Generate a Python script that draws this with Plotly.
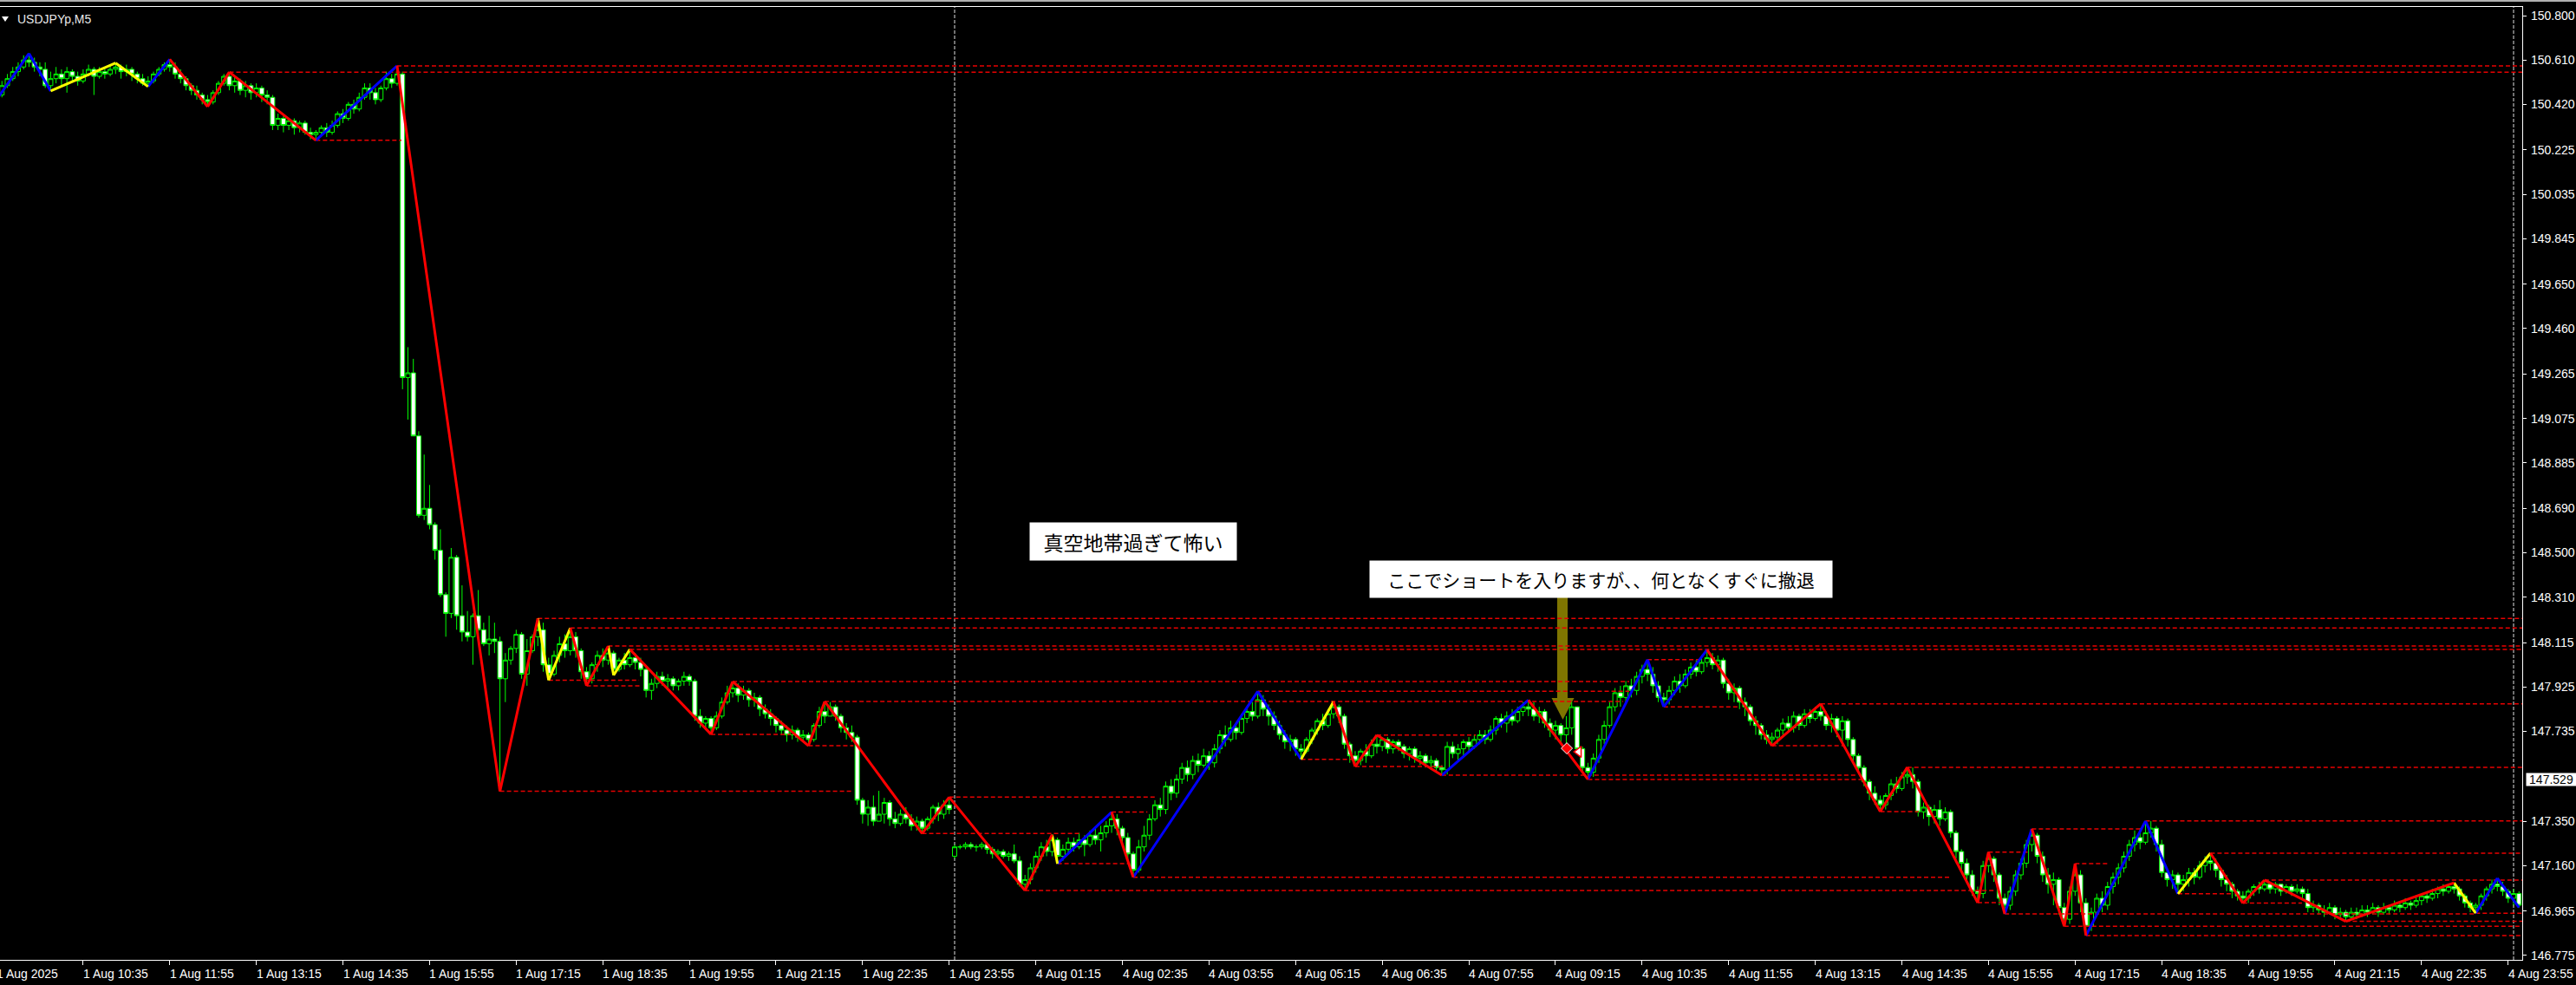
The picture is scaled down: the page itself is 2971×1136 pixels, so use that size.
import plotly.graph_objects as go

# ---------------- data ----------------
# M5 bars, bar 0 = 1 Aug 09:15 ; bar 177 = 4 Aug 00:00
closes = [
150.46,150.50,150.53,150.56,150.58,150.61,150.60,150.58,150.57,150.50,
150.53,150.55,150.53,150.56,150.54,150.52,150.55,150.57,150.54,150.56,
150.55,150.57,150.58,150.56,150.57,150.55,150.53,150.51,150.52,150.55,
150.57,150.59,150.58,150.55,150.53,150.50,150.48,150.46,150.44,150.43,
150.47,150.51,150.54,150.50,150.52,150.48,150.50,150.47,150.49,150.46,
150.45,150.33,150.36,150.33,150.35,150.32,150.34,150.30,150.29,150.30,
150.32,150.30,150.33,150.38,150.36,150.42,150.40,150.45,150.49,150.47,
150.44,150.49,150.53,150.51,150.55,149.25,149.27,149.00,148.66,148.69,
148.62,148.51,148.32,148.24,148.48,148.23,148.16,148.14,148.23,148.17,
148.11,148.13,148.12,147.96,148.04,148.09,148.15,147.98,148.08,148.14,
148.17,148.02,147.98,148.06,148.11,148.08,148.14,148.08,147.99,147.96,
148.02,148.06,148.04,148.07,148.00,148.04,148.02,148.05,148.03,148.00,
147.91,147.94,147.97,147.95,147.96,147.93,147.95,147.97,147.95,147.80,
147.77,147.79,147.75,147.80,147.86,147.90,147.92,147.89,147.91,147.87,
147.88,147.83,147.81,147.79,147.76,147.74,147.72,147.74,147.71,147.72,
147.70,147.76,147.82,147.80,147.84,147.80,147.75,147.73,147.71,147.44,
147.38,147.41,147.35,147.38,147.43,147.36,147.34,147.38,147.36,147.33,
147.35,147.32,147.36,147.41,147.38,147.42,147.40,147.24,147.24,147.25,
147.24,147.24,147.25,147.23,147.21,147.22,147.20,147.21,147.18,147.08,
147.10,147.15,147.20,147.24,147.22,147.27,147.20,147.23,147.26,147.24,
147.27,147.25,147.29,147.27,147.30,147.33,147.36,147.32,147.28,147.21,
147.14,147.24,147.29,147.36,147.42,147.40,147.50,147.47,147.53,147.58,
147.55,147.61,147.59,147.63,147.60,147.66,147.72,147.70,147.75,147.73,
147.79,147.82,147.80,147.87,147.83,147.80,147.76,147.72,147.69,147.70,
147.66,147.65,147.70,147.74,147.78,147.76,147.81,147.84,147.80,147.68,
147.63,147.61,147.65,147.63,147.68,147.67,147.70,147.66,147.69,147.67,
147.64,147.66,147.62,147.63,147.60,147.61,147.58,147.57,147.67,147.64,
147.66,147.69,147.67,147.70,147.72,147.70,147.74,147.79,147.77,147.80,
147.78,147.82,147.84,147.83,147.80,147.82,147.77,147.74,147.76,147.72,
147.75,147.84,147.66,147.58,147.56,147.62,147.70,147.76,147.84,147.90,
147.88,147.93,147.91,147.97,148.00,147.98,147.93,147.88,147.87,147.91,
147.95,147.93,147.98,148.01,147.99,148.03,148.05,148.02,148.04,147.94,
147.90,147.92,147.86,147.84,147.78,147.76,147.72,147.70,147.71,147.74,
147.77,147.75,147.80,147.76,147.81,147.79,147.82,147.80,147.76,147.79,
147.74,147.78,147.70,147.63,147.58,147.52,147.47,147.44,147.42,147.46,
147.51,147.49,147.54,147.55,147.52,147.39,147.41,147.37,147.40,147.36,
147.39,147.30,147.22,147.17,147.12,147.05,147.04,147.16,147.19,147.12,
147.02,146.99,147.05,147.12,147.17,147.25,147.29,147.20,147.12,147.08,
147.10,146.98,146.93,147.05,147.12,147.00,146.90,146.96,147.02,146.99,
147.07,147.11,147.15,147.20,147.25,147.28,147.26,147.30,147.32,147.25,
147.13,147.10,147.12,147.08,147.10,147.13,147.11,147.16,147.18,147.17,
147.14,147.10,147.08,147.05,147.03,147.02,147.05,147.07,147.06,147.08,
147.06,147.08,147.05,147.07,147.05,147.06,147.04,146.98,146.99,146.97,
146.96,146.98,146.95,146.96,146.94,146.96,146.95,146.97,146.96,146.98,
146.96,146.98,146.97,146.99,146.98,147.00,146.99,147.01,147.03,147.02,
147.04,147.06,147.05,147.07,147.06,147.03,147.00,146.98,146.99,147.03,
147.06,147.08,147.07,147.05,147.02,147.04,146.99,
]

highs = [
150.47,150.52,150.55,150.58,150.60,150.63,150.638,150.62,150.60,150.60,
150.56,150.58,150.57,150.58,150.57,150.56,150.57,150.59,150.58,150.58,
150.58,150.59,150.597,150.59,150.59,150.58,150.56,150.55,150.54,150.56,
150.58,150.60,150.613,150.60,150.57,150.54,150.51,150.50,150.47,150.46,
150.48,150.52,150.55,150.558,150.54,150.53,150.52,150.51,150.51,150.50,
150.48,150.46,150.38,150.37,150.36,150.36,150.35,150.35,150.32,150.31,
150.33,150.34,150.35,150.39,150.40,150.43,150.44,150.47,150.51,150.51,
150.49,150.50,150.56,150.55,150.585,150.56,149.38,149.33,149.02,148.92,
148.79,148.63,148.60,148.33,148.52,148.49,148.36,148.25,148.24,148.34,
148.20,148.23,148.20,148.14,148.07,148.10,148.17,148.16,148.13,148.15,
148.218,148.20,148.05,148.08,148.14,148.15,148.177,148.16,148.09,148.01,
148.03,148.08,148.09,148.10,148.08,148.05,148.07,148.086,148.07,148.05,
148.01,147.96,147.99,147.99,147.98,147.97,147.96,147.99,147.98,147.96,
147.83,147.80,147.80,147.82,147.88,147.93,147.948,147.94,147.93,147.92,
147.90,147.89,147.85,147.83,147.80,147.78,147.76,147.76,147.75,147.74,
147.73,147.77,147.84,147.863,147.86,147.85,147.81,147.77,147.76,147.72,
147.45,147.44,147.46,147.48,147.45,147.44,147.39,147.40,147.41,147.38,
147.37,147.36,147.37,147.42,147.43,147.44,147.453,147.25,147.25,147.26,
147.26,147.25,147.26,147.26,147.24,147.23,147.23,147.22,147.25,147.20,
147.12,147.17,147.22,147.26,147.27,147.292,147.28,147.25,147.28,147.28,
147.30,147.29,147.31,147.32,147.33,147.35,147.389,147.38,147.33,147.30,
147.22,147.27,147.33,147.38,147.44,147.45,147.52,147.53,147.55,147.60,
147.61,147.63,147.64,147.66,147.65,147.68,147.74,147.76,147.78,147.77,
147.81,147.84,147.86,147.906,147.89,147.85,147.82,147.78,147.74,147.72,
147.71,147.68,147.71,147.75,147.79,147.81,147.83,147.862,147.85,147.81,
147.69,147.65,147.66,147.68,147.70,147.719,147.71,147.71,147.70,147.70,
147.68,147.67,147.67,147.65,147.64,147.63,147.62,147.59,147.69,147.69,
147.68,147.70,147.71,147.72,147.74,147.74,147.76,147.80,147.81,147.82,
147.83,147.84,147.86,147.869,147.86,147.84,147.83,147.79,147.78,147.77,
147.80,147.86,147.84,147.67,147.60,147.64,147.72,147.78,147.86,147.92,
147.93,147.95,147.96,147.99,148.02,148.042,148.01,147.95,147.90,147.93,
147.97,147.98,148.00,148.03,148.04,148.06,148.084,148.07,148.06,148.05,
147.96,147.94,147.93,147.88,147.85,147.80,147.77,147.74,147.73,147.75,
147.79,147.80,147.82,147.81,147.83,147.83,147.84,147.853,147.82,147.81,
147.80,147.80,147.79,147.71,147.64,147.59,147.53,147.50,147.46,147.47,
147.53,147.54,147.56,147.581,147.58,147.53,147.43,147.42,147.42,147.44,
147.41,147.40,147.31,147.23,147.19,147.14,147.07,147.18,147.218,147.20,
147.13,147.04,147.07,147.14,147.19,147.27,147.317,147.30,147.22,147.15,
147.13,147.11,147.00,147.07,147.168,147.14,147.02,146.98,147.04,147.05,
147.09,147.13,147.17,147.22,147.27,147.31,147.32,147.351,147.35,147.33,
147.27,147.15,147.14,147.13,147.12,147.15,147.15,147.18,147.20,147.213,
147.19,147.15,147.12,147.09,147.06,147.05,147.06,147.08,147.09,147.098,
147.09,147.09,147.08,147.08,147.08,147.08,147.07,147.06,147.01,147.00,
146.99,147.00,146.99,146.98,146.97,146.98,146.98,146.99,146.99,147.00,
146.99,147.00,146.99,147.01,147.00,147.02,147.01,147.03,147.04,147.05,
147.06,147.07,147.08,147.08,147.086,147.07,147.04,147.01,147.00,147.04,
147.07,147.10,147.106,147.09,147.06,147.06,147.05,
]

lows = [
150.42,150.45,150.49,150.52,150.54,150.57,150.58,150.56,150.54,150.49,
150.477,150.51,150.50,150.47,150.52,150.50,150.51,150.54,150.46,150.53,
150.53,150.54,150.55,150.53,150.54,150.52,150.51,150.50,150.496,150.51,
150.54,150.56,150.56,150.53,150.51,150.48,150.46,150.44,150.42,150.41,
150.42,150.46,150.50,150.48,150.47,150.46,150.45,150.44,150.45,150.43,
150.42,150.31,150.31,150.30,150.31,150.29,150.30,150.29,150.27,150.266,
150.28,150.28,150.29,150.32,150.34,150.35,150.38,150.39,150.44,150.44,
150.42,150.43,150.48,150.49,150.50,149.20,149.07,149.00,148.65,148.64,
148.60,148.47,148.31,148.14,148.22,148.17,148.12,148.12,148.02,148.15,
148.10,148.06,148.07,147.478,147.86,148.02,148.07,147.96,147.93,148.07,
148.10,147.99,147.954,147.97,148.03,148.05,148.06,148.05,147.96,147.93,
147.94,147.99,148.01,148.02,147.975,147.99,148.00,148.01,148.00,147.97,
147.88,147.87,147.92,147.93,147.92,147.91,147.91,147.93,147.93,147.78,
147.75,147.74,147.722,147.74,147.79,147.85,147.88,147.86,147.87,147.84,
147.84,147.80,147.79,147.76,147.73,147.72,147.69,147.70,147.69,147.69,
147.673,147.69,147.75,147.77,147.80,147.78,147.73,147.70,147.69,147.42,
147.34,147.33,147.33,147.35,147.34,147.33,147.32,147.33,147.34,147.31,
147.31,147.297,147.31,147.34,147.35,147.36,147.38,147.19,147.23,147.23,
147.23,147.22,147.23,147.21,147.19,147.20,147.19,147.18,147.17,147.07,
147.053,147.08,147.13,147.18,147.20,147.20,147.168,147.18,147.21,147.22,
147.23,147.20,147.24,147.25,147.22,147.28,147.30,147.29,147.25,147.19,
147.110,147.13,147.22,147.27,147.35,147.37,147.38,147.44,147.45,147.51,
147.52,147.53,147.56,147.58,147.57,147.58,147.64,147.67,147.69,147.70,
147.72,147.77,147.78,147.79,147.80,147.76,147.74,147.70,147.66,147.65,
147.63,147.615,147.64,147.68,147.72,147.74,147.75,147.79,147.77,147.66,
147.60,147.584,147.59,147.60,147.62,147.64,147.65,147.64,147.64,147.65,
147.62,147.61,147.60,147.59,147.58,147.57,147.56,147.547,147.55,147.62,
147.61,147.63,147.65,147.66,147.68,147.68,147.69,147.72,147.75,147.73,
147.76,147.77,147.80,147.80,147.78,147.77,147.75,147.71,147.70,147.68,
147.66,147.72,147.64,147.56,147.529,147.54,147.60,147.68,147.75,147.82,
147.84,147.86,147.88,147.89,147.94,147.95,147.90,147.86,147.840,147.85,
147.89,147.90,147.92,147.96,147.97,147.98,148.01,148.00,147.99,147.92,
147.87,147.86,147.83,147.80,147.76,147.72,147.70,147.68,147.673,147.68,
147.72,147.73,147.73,147.74,147.75,147.77,147.78,147.78,147.74,147.73,
147.71,147.69,147.67,147.60,147.55,147.50,147.44,147.42,147.391,147.40,
147.44,147.47,147.48,147.51,147.49,147.37,147.36,147.33,147.34,147.33,
147.35,147.28,147.19,147.14,147.09,147.03,147.001,147.02,147.13,147.09,
146.99,146.953,146.97,147.03,147.10,147.15,147.22,147.17,147.09,147.04,
146.99,146.95,146.900,146.91,147.03,146.96,146.860,146.88,146.94,146.96,
146.97,147.04,147.08,147.13,147.18,147.22,147.23,147.25,147.28,147.22,
147.11,147.07,147.06,147.039,147.05,147.07,147.08,147.10,147.13,147.14,
147.11,147.07,147.05,147.02,147.01,146.999,147.00,147.03,147.04,147.05,
147.04,147.04,147.03,147.04,147.03,147.04,147.02,146.96,146.96,146.95,
146.94,146.95,146.93,146.93,146.921,146.93,146.93,146.94,146.94,146.95,
146.94,146.95,146.95,146.96,146.96,146.97,146.97,146.98,146.99,147.00,
147.01,147.02,147.03,147.04,147.04,147.01,146.98,146.96,146.956,146.97,
147.01,147.04,147.05,147.03,147.00,146.99,146.980,
]

first_open = 150.44
gap_opens = {177: 147.20}          # weekend gap at Monday open

time_labels = [
"1 Aug 2025", "1 Aug 10:35", "1 Aug 11:55", "1 Aug 13:15", "1 Aug 14:35",
"1 Aug 15:55", "1 Aug 17:15", "1 Aug 18:35", "1 Aug 19:55", "1 Aug 21:15",
"1 Aug 22:35", "1 Aug 23:55", "4 Aug 01:15", "4 Aug 02:35", "4 Aug 03:55",
"4 Aug 05:15", "4 Aug 06:35", "4 Aug 07:55", "4 Aug 09:15", "4 Aug 10:35",
"4 Aug 11:55", "4 Aug 13:15", "4 Aug 14:35", "4 Aug 15:55", "4 Aug 17:15",
"4 Aug 18:35", "4 Aug 19:55", "4 Aug 21:15", "4 Aug 22:35", "4 Aug 23:55",
]
label_bars = [16 * k for k in range(len(time_labels))]

price_ticks = [150.800, 150.610, 150.420, 150.225, 150.035, 149.845, 149.650,
               149.460, 149.265, 149.075, 148.885, 148.690, 148.500, 148.310,
               148.115, 147.925, 147.735, 147.350, 147.160, 146.965, 146.775]
current_price = 147.529
separator_bars = [177, 465]

# ZigZag pivots (bar, price) and segment colours
zz_bar = [0, 6, 10, 22, 28, 32, 39, 43, 59, 74, 93, 100, 102, 106, 109, 113, 114,
          117, 132, 136, 150, 153, 171, 176, 190, 195, 196, 206, 210, 233, 241,
          247, 251, 255, 267, 283, 294, 305, 308, 316, 328, 337, 348, 353, 366,
          368, 371, 376, 382, 384, 386, 397, 403, 409, 415, 419, 434, 454, 458,
          462, 466]
zz_price = [150.44, 150.638, 150.477, 150.597, 150.496, 150.613, 150.410, 150.558,
            150.266, 150.585, 147.478, 148.218, 147.954, 148.177, 147.930, 148.100,
            147.975, 148.086, 147.722, 147.948, 147.673, 147.863, 147.297, 147.453,
            147.053, 147.292, 147.168, 147.389, 147.110, 147.906, 147.615, 147.862,
            147.584, 147.719, 147.547, 147.869, 147.529, 148.042, 147.840, 148.084,
            147.673, 147.853, 147.391, 147.581, 147.001, 147.218, 146.953, 147.317,
            146.900, 147.168, 146.860, 147.351, 147.039, 147.213, 146.999, 147.098,
            146.921, 147.086, 146.956, 147.106, 146.980]
zz_color = list("bbyyb" "rrrbr" "ryyrr" "yyrrr" "rrrrr" "ybrbb"
                "yrrrb" "rbbbr" "rrrrr" "rbrrr" "bbyrr" "rrybb")

# horizontal support / resistance levels: start bar, end bar, price
lvl_start = [74, 43, 59, 100, 106, 113, 117, 102, 109, 136, 132, 150, 93, 153,
             176, 206, 171, 196, 210, 190, 233, 241, 251, 267, 294, 255, 305,
             308, 328, 337, 348, 353, 366, 368, 371, 376, 382, 384, 386, 397,
             403, 409, 415, 419, 434, 458]
lvl_end = [470, 470, 74.8, 470, 470, 470, 470, 118.7, 119.2, 301.6, 146.7, 158.3,
           158.3, 300.5, 214.2, 212.6, 200.4, 209.4, 361.0, 369.4, 301.6, 250.8,
           267.3, 343.4, 344.9, 273.3, 314.6, 321.8, 341.2, 470, 355.1, 470,
           370.8, 375.3, 458.1, 396.1, 470, 390.2, 470, 470, 413.3, 470, 425.9,
           470, 470, 470]
lvl_price = [150.585, 150.558, 150.266, 148.218, 148.177, 148.100, 148.086,
             147.954, 147.930, 147.948, 147.722, 147.673, 147.478, 147.863,
             147.453, 147.389, 147.297, 147.168, 147.110, 147.053, 147.906,
             147.615, 147.584, 147.547, 147.529, 147.719, 148.042, 147.840,
             147.673, 147.853, 147.391, 147.581, 147.001, 147.218, 146.953,
             147.317, 146.900, 147.168, 146.860, 147.351, 147.039, 147.213,
             146.999, 147.098, 146.921, 146.956]

# trade marks near the note arrow
sell_mark = (290.1, 147.662)
close_mark = (292.3, 147.647)

title_text = "USDJPYp,M5"
note1 = "真空地帯過ぎて怖い"
note2 = "ここでショートを入りますが、、何となくすぐに撤退"

# ---------------- build ----------------
n = len(closes)
bars = list(range(n))
opens = [first_open] + closes[:-1]
for k, v in gap_opens.items():
    opens[k] = v
hi = [max(h, o, c) for h, o, c in zip(highs, opens, closes)]
lo = [min(l, o, c) for l, o, c in zip(lows, opens, closes)]

W, H = 2971, 1136
ML, MR, MT, MB = 0, 62, 8, 29
PW, PH = W - ML - MR, H - MT - MB
PX_PER_BAR = 6.243
X0 = 4 / PX_PER_BAR
X1 = X0 + PW / PX_PER_BAR
PX_PER_YEN = 269.3
Y1 = 150.800 + (18 - MT) / PX_PER_YEN
Y0 = 150.800 - (H - MB - 18) / PX_PER_YEN

FONT = "Liberation Sans, Arial, sans-serif"
JFONT = "Noto Sans CJK JP, Noto Sans CJK SC, sans-serif"


def bx(px):
    return (px + 4) / PX_PER_BAR


def bar_px(b):
    return b * PX_PER_BAR - 4


def py(pix):
    return 150.800 - (pix - 18) / PX_PER_YEN


fig = go.Figure()

fig.add_trace(go.Candlestick(
    x=bars, open=opens, high=hi, low=lo, close=closes,
    increasing=dict(line=dict(color="#00FF00", width=1), fillcolor="#000000"),
    decreasing=dict(line=dict(color="#00FF00", width=1), fillcolor="#FFFFFF"),
    whiskerwidth=0, showlegend=False, hoverinfo="skip"))

lx, ly = [], []
for s, e, p in zip(lvl_start, lvl_end, lvl_price):
    lx += [s, e, None]
    ly += [p, p, None]
fig.add_trace(go.Scatter(x=lx, y=ly, mode="lines", showlegend=False,
                         hoverinfo="skip",
                         line=dict(color="#E80000", width=1.5, dash="5px,3px")))

cmap = {"b": "#0000FF", "y": "#FFFF00", "r": "#FF0000"}
for key, col in cmap.items():
    xs, ys = [], []
    for k, c in enumerate(zz_color):
        if c == key:
            xs += [zz_bar[k], zz_bar[k + 1], None]
            ys += [zz_price[k], zz_price[k + 1], None]
    fig.add_trace(go.Scatter(x=xs, y=ys, mode="lines", showlegend=False,
                             hoverinfo="skip", line=dict(color=col, width=3)))

fig.add_trace(go.Scatter(x=[sell_mark[0]], y=[sell_mark[1]], mode="markers",
                         showlegend=False, hoverinfo="skip",
                         marker=dict(symbol="diamond", size=10, color="#FF0000",
                                     line=dict(color="#FFFFFF", width=1))))
fig.add_trace(go.Scatter(x=[close_mark[0]], y=[close_mark[1]], mode="markers",
                         showlegend=False, hoverinfo="skip",
                         marker=dict(symbol="triangle-left", size=11, color="#FFFFFF",
                                     line=dict(color="#FF0000", width=1.5))))

shapes = []
for b in separator_bars:
    shapes.append(dict(type="line", xref="x", yref="paper", x0=b, x1=b, y0=0, y1=1,
                       layer="below", line=dict(color="#E0E0E0", width=1, dash="4px,2px")))

arrow_col = "#7F7500"
shapes.append(dict(type="rect", xref="x", yref="y", x0=bx(1796), x1=bx(1808),
                   y0=py(689), y1=py(806), fillcolor=arrow_col, line=dict(width=0),
                   layer="below"))
shapes.append(dict(type="path", xref="x", yref="y", layer="below",
                   path="M %f,%f L %f,%f L %f,%f Z" % (bx(1789.5), py(805), bx(1815.5), py(805),
                                                        bx(1802.5), py(830)),
                   fillcolor=arrow_col, line=dict(width=0)))
# window strip at the very top and the title triangle
shapes.append(dict(type="rect", xref="paper", yref="paper", x0=0, x1=W / PW,
                   y0=1 + (MT - 2) / PH, y1=1 + MT / PH, fillcolor="#B0B0B0",
                   line=dict(width=0)))
shapes.append(dict(type="path", xref="paper", yref="paper",
                   path="M %f,%f L %f,%f L %f,%f Z" % (2 / PW, (H - MB - 19) / PH,
                                                        10 / PW, (H - MB - 19) / PH,
                                                        6 / PW, (H - MB - 25) / PH),
                   fillcolor="#FFFFFF", line=dict(width=0)))

axis_font = dict(family=FONT, size=14, color="#FFFFFF")
annotations = [
    dict(text=title_text, xref="paper", yref="paper", x=19 / PW, y=(H - MB - 22) / PH,
         xanchor="left", yanchor="middle", showarrow=False, borderpad=0,
         font=dict(family=FONT, size=14, color="#E8E8E8")),
    dict(text=note1, xref="x", yref="y", x=bx(1306.5), y=py(624.5), width=238, height=43,
         bgcolor="#FFFFFF", borderpad=0, showarrow=False, align="center", valign="middle",
         font=dict(family=JFONT, size=23, color="#000000")),
    dict(text=note2, xref="x", yref="y", x=bx(1846.7), y=py(668), width=533, height=42,
         bgcolor="#FFFFFF", borderpad=0, showarrow=False, align="center", valign="middle",
         font=dict(family=JFONT, size=21, color="#000000")),
    dict(text=f"{current_price:.3f}", xref="paper", yref="y", x=(PW + 4) / PW,
         y=current_price, xanchor="left", yanchor="middle", showarrow=False,
         bgcolor="#FFFFFF", borderpad=0, width=57, height=14,
         font=dict(family=FONT, size=14, color="#000000")),
]
# time-axis labels, written to the right of each tick as in the terminal
for b, t in zip(label_bars, time_labels):
    annotations.append(dict(text=t, xref="paper", yref="paper",
                            x=(bar_px(b) - 1) / PW, y=-16 / PH,
                            xanchor="left", yanchor="middle", showarrow=False,
                            borderpad=0, font=axis_font))
# price-axis labels
for v in price_ticks:
    annotations.append(dict(text=f"{v:.3f}", xref="paper", yref="y",
                            x=(PW + 9) / PW, y=v, xanchor="left", yanchor="middle",
                            showarrow=False, borderpad=0, font=axis_font))

fig.update_layout(
    width=W, height=H,
    margin=dict(l=ML, r=MR, t=MT, b=MB, pad=0),
    paper_bgcolor="#000000", plot_bgcolor="#000000",
    showlegend=False, hovermode=False,
    boxgap=0.2, boxgroupgap=0,
    shapes=shapes, annotations=annotations,
    xaxis=dict(range=[X0, X1], showgrid=False, zeroline=False,
               showline=True, linecolor="#FFFFFF", linewidth=1, mirror=True,
               ticks="outside", ticklen=5, tickcolor="#FFFFFF",
               tickvals=label_bars, showticklabels=False,
               rangeslider=dict(visible=False), fixedrange=True),
    yaxis=dict(range=[Y0, Y1], side="right", showgrid=False, zeroline=False,
               showline=True, linecolor="#FFFFFF", linewidth=1,
               ticks="outside", ticklen=4, tickcolor="#FFFFFF",
               tickvals=price_ticks, showticklabels=False, fixedrange=True),
)

# remove the browser's default 8px page margin so the figure fills the window exactly
fig.write_html("out.html", config={"displayModeBar": False},
               post_script="document.body.style.margin='0';"
                           "document.body.style.background='#000';")
